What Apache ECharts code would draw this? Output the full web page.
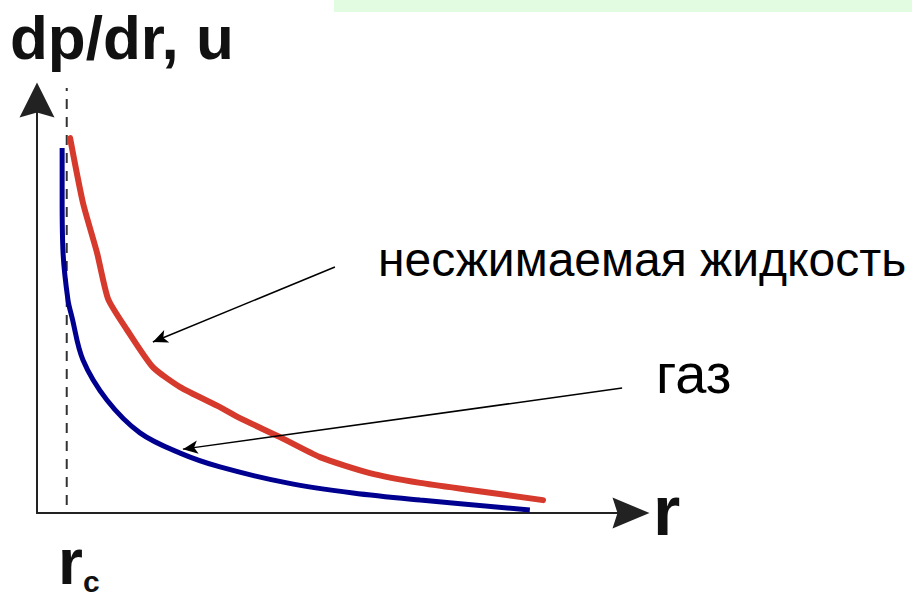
<!DOCTYPE html>
<html>
<head>
<meta charset="utf-8">
<style>
  html, body { margin: 0; padding: 0; background: #fff; }
  #chart { width: 912px; height: 602px; }
</style>
<script src="https://cdn.jsdelivr.net/npm/echarts@6/dist/echarts.min.js"></script>
</head>
<body>
<div id="chart"></div>
<script>
// r in units of the well radius rc
const liquidR = [1.08, 1.50, 1.96, 2.32, 2.94, 3.78, 4.67, 5.97, 6.62, 7.93, 9.23, 10.86, 12.50, 14.13, 16.51];
const liquidY = [12.21, 10.10, 8.47, 6.97, 5.96, 4.75, 4.10, 3.45, 3.09, 2.47, 1.82, 1.30, 0.98, 0.75, 0.42];
const gasR = [0.82, 0.82, 0.85, 1.01, 1.14, 1.50, 2.28, 3.36, 4.67, 5.97, 8.16, 10.31, 12.50, 16.08];
const gasY = [11.89, 10.19, 8.47, 6.94, 6.38, 4.98, 3.68, 2.61, 1.95, 1.50, 0.98, 0.65, 0.42, 0.10];
const rc = 0.97;
const rcLine = [0.26, 13.84];
const liquidArrow = [[9.72, 8.01], [3.78, 5.57]];
const gasArrow = [[19.09, 4.07], [4.76, 2.08]];
const labels = {
  yName: 'dp/dr, u',
  xName: 'r',
  liquid: 'несжимаемая жидкость',
  gas: 'газ',
};

const font = '"Liberation Sans", Arial, sans-serif';
// arrow heads sit centred on the axis ends
const yArrow = 'path://M17.5,0 L35,35 L17.5,30 L0,35 Z';
const xArrow = 'path://M15.5,0 L31,37 L15.5,32 L0,37 Z';

const zip = (xs, ys) => xs.map((x, i) => [x, ys[i]]);

const arrowLine = (pair) => [{ coord: pair[0] }, { coord: pair[1] }];

const chart = echarts.init(document.getElementById('chart'), null, { renderer: 'svg' });
chart.setOption({
  animation: false,
  backgroundColor: '#fff',
  grid: {
    left: 37,
    right: 281,
    top: 100,
    bottom: 89,
    outerBoundsMode: 'none',
  },
  xAxis: {
    type: 'value',
    min: 0,
    max: 19.38,
    splitLine: { show: false },
    axisTick: { show: false },
    axisLabel: { show: false },
    axisLine: {
      symbol: ['none', xArrow],
      symbolSize: [31, 37],
      lineStyle: { color: '#222', width: 2 },
    },
  },
  yAxis: {
    type: 'value',
    min: 0,
    max: 13.45,
    splitLine: { show: false },
    axisTick: { show: false },
    axisLabel: { show: false },
    axisLine: {
      symbol: ['none', yArrow],
      symbolSize: [35, 35],
      lineStyle: { color: '#222', width: 2 },
    },
  },
  series: [
    {
      name: 'rc',
      type: 'line',
      clip: false,
      showSymbol: false,
      silent: true,
      data: [[rc, rcLine[0]], [rc, rcLine[1]]],
      lineStyle: { color: '#333', width: 2, type: [10, 8] },
    },
    {
      name: labels.gas,
      type: 'line',
      smooth: 0.35,
      showSymbol: false,
      data: zip(gasR, gasY),
      lineStyle: { color: '#000090', width: 5 },
      markLine: {
        silent: true,
        symbol: ['none', 'arrow'],
        symbolSize: [10, 15],
        label: { show: false },
        lineStyle: { color: '#000', width: 1.5, type: 'solid' },
        data: [arrowLine(gasArrow)],
      },
    },
    {
      name: labels.liquid,
      type: 'line',
      smooth: 0.2,
      showSymbol: false,
      data: zip(liquidR, liquidY),
      lineStyle: { color: '#d63a2c', width: 6, cap: 'round', join: 'round' },
      markLine: {
        silent: true,
        symbol: ['none', 'arrow'],
        symbolSize: [10, 15],
        label: { show: false },
        lineStyle: { color: '#000', width: 1.5, type: 'solid' },
        data: [arrowLine(liquidArrow)],
      },
    },
  ],
  graphic: [
    {
      type: 'rect',
      shape: { x: 334, y: 0, width: 578, height: 12 },
      style: { fill: '#e2fce2' },
      silent: true,
    },
    {
      type: 'text',
      style: {
        x: 10, y: 37, text: labels.yName, fill: '#111',
        font: 'bold 62px ' + font, verticalAlign: 'middle',
      },
    },
    {
      type: 'text',
      style: {
        x: 653, y: 511, text: labels.xName, fill: '#111',
        font: 'bold 70px ' + font, verticalAlign: 'middle',
      },
    },
    {
      type: 'text',
      style: {
        x: 58, y: 564, text: '{r|r}{c|c}', verticalAlign: 'middle',
        rich: {
          r: { fill: '#111', font: 'bold 64px ' + font, lineHeight: 64, padding: [0, 0, 4, 0] },
          c: { fill: '#111', font: 'bold 30px ' + font, lineHeight: 30, verticalAlign: 'bottom' },
        },
      },
    },
    {
      type: 'text',
      style: {
        x: 378, y: 259, text: labels.liquid, fill: '#000',
        font: '48px ' + font, verticalAlign: 'middle',
      },
    },
    {
      type: 'text',
      style: {
        x: 656, y: 373, text: labels.gas, fill: '#000',
        font: '56px ' + font, verticalAlign: 'middle',
      },
    },
  ],
});
</script>
</body>
</html>
